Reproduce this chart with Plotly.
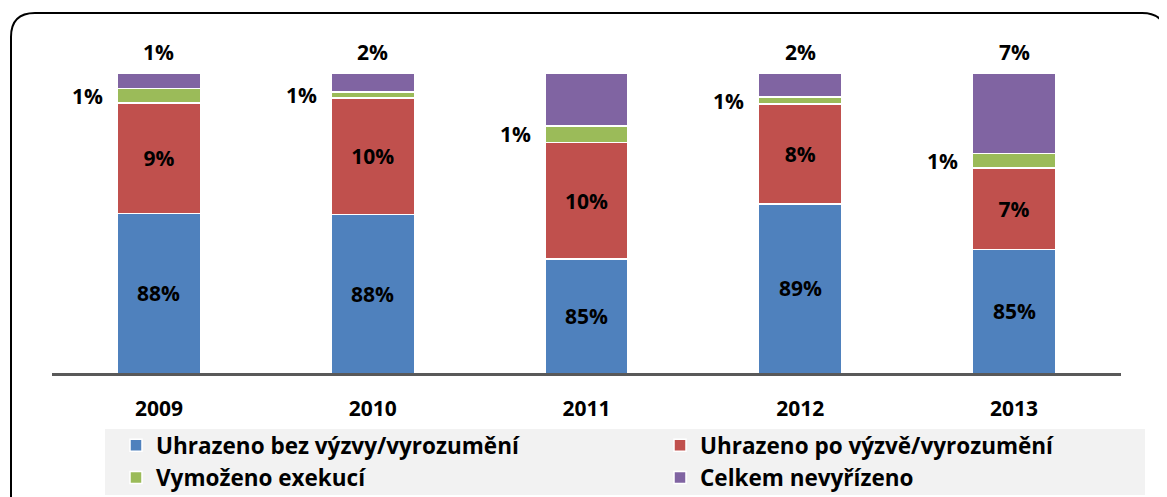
import plotly.graph_objects as go

years = ["2009", "2010", "2011", "2012", "2013"]
series_names = ["Uhrazeno bez výzvy/vyrozumění", "Uhrazeno po výzvě/vyrozumění",
                "Vymoženo exekucí", "Celkem nevyřízeno"]
bez_vyzvy = [88.3, 88.2, 84.5, 89.1, 85.3]
po_vyzve = [9.2, 9.7, 9.7, 8.3, 6.8]
exekuce = [1.2, 0.5, 1.4, 0.6, 1.2]
nevyrizeno = [1.3, 1.6, 4.4, 2.0, 6.7]
lbl_bez = ["88%", "88%", "85%", "89%", "85%"]
lbl_po = ["9%", "10%", "10%", "8%", "7%"]
lbl_ex = ["1%", "1%", "1%", "1%", "1%"]
lbl_nev = ["1%", "2%", "4%", "2%", "7%"]
colors = ["#4F81BD", "#C0504D", "#9BBB59", "#8064A2"]
y_min, y_max = 75, 100

OFF = 8                      # page body margin
W, H = 1167 - OFF, 497 - OFF
# plot area in page pixels: x 52..1121, y 73..373
L, T = 52 - OFF, 73 - OFF
R, B = W - (1121 - OFF), H - (373 - OFF)
PW, PH = W - L - R, H - T - B
FONT = "Open Sans"
FS = 21
xpos = list(range(len(years)))


def px(x):
    return (x - OFF - L) / PW


def py(y):
    return (H - B - (y - OFF)) / PH


def bold(size=FS):
    return dict(family=FONT, size=size, color="black", weight="bold")


fig = go.Figure()
data = [bez_vyzvy, po_vyzve, exekuce, nevyrizeno]
legends = ["legend", "legend2", "legend", "legend2"]
for k, (name, vals, col, lg) in enumerate(zip(series_names, data, colors, legends)):
    kw = {}
    if k == 1:
        kw = dict(text=lbl_po, textposition="inside", insidetextanchor="middle",
                  textangle=0, textfont=bold())
    fig.add_trace(go.Bar(
        x=xpos, y=vals, name=name, width=0.39, legend=lg, legendgroup=name,
        marker=dict(color=col, line=dict(color="white", width=1.5)),
        hoverinfo="skip", **kw,
    ))

for i in xpos:
    total = bez_vyzvy[i] + po_vyzve[i] + exekuce[i] + nevyrizeno[i]
    fig.add_annotation(x=i, y=total, text=lbl_nev[i], showarrow=False,
                       yanchor="bottom", yshift=5, font=bold())
    mid = bez_vyzvy[i] + po_vyzve[i] + exekuce[i] / 2
    fig.add_annotation(x=i, y=mid, text=lbl_ex[i], showarrow=False,
                       xanchor="right", xshift=-54, font=bold())
    fig.add_annotation(x=i, y=(y_min + bez_vyzvy[i]) / 2, text=lbl_bez[i],
                       showarrow=False, font=bold())

# frame with rounded corners
r = 24
x0, y0, x1, y1 = 11, 13, 1166, 520
path = (f"M {px(x0):.5f},{py(y1):.5f} L {px(x0):.5f},{py(y0 + r):.5f} "
        f"Q {px(x0):.5f},{py(y0):.5f} {px(x0 + r):.5f},{py(y0):.5f} "
        f"L {px(x1 - r):.5f},{py(y0):.5f} Q {px(x1):.5f},{py(y0):.5f} {px(x1):.5f},{py(y0 + r):.5f} "
        f"L {px(x1):.5f},{py(y1):.5f}")
fig.add_shape(type="path", path=path, xref="paper", yref="paper",
              line=dict(color="black", width=2), layer="below")
# legend background
fig.add_shape(type="rect", xref="paper", yref="paper",
              x0=px(105), x1=px(1145), y0=py(495), y1=py(429),
              fillcolor="#F2F2F2", line=dict(width=0), layer="below")

leg_common = dict(orientation="v", xanchor="left", yanchor="top",
                  bgcolor="rgba(0,0,0,0)", font=bold(22.5), itemwidth=30,
                  traceorder="grouped", tracegroupgap=0, itemclick=False)
fig.update_layout(
    width=W, height=H,
    margin=dict(l=L, r=R, t=T, b=B, autoexpand=False, pad=0),
    barmode="stack",
    plot_bgcolor="white", paper_bgcolor="white",
    showlegend=True,
    legend=dict(x=px(116), y=py(424), **leg_common),
    legend2=dict(x=px(660), y=py(424), **leg_common),
    xaxis=dict(range=[-0.5, 4.5], tickvals=xpos, ticktext=years,
               showgrid=False, zeroline=False, showline=True, linecolor="#595959",
               linewidth=2.5, ticks="", ticklabelstandoff=15,
               tickfont=bold()),
    yaxis=dict(range=[y_min, y_max], visible=False, showgrid=False),
)

fig.write_html("out.html")
